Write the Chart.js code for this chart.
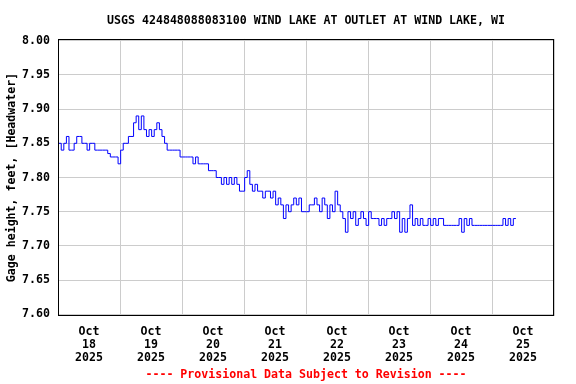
<!DOCTYPE html>
<html>
<head>
<meta charset="utf-8">
<script src="https://cdn.jsdelivr.net/npm/chart.js@4/dist/chart.umd.min.js"></script>
<style>
    html, body { margin: 0; padding: 0; background: #ffffff; }
    #wrap { width: 576px; height: 384px; }
</style>
</head>
<body>
<div id="wrap"><canvas id="myChart" width="576" height="384"></canvas></div>
<script>
    // hours counted from Oct 18 2025 00:00, one reading per hour
    var startHour = 0.25
    var stepHours = 1
    var gageHeight = [
        7.85, 7.84, 7.85, 7.86, 7.84, 7.84, 7.85, 7.86, 7.86, 7.85, 7.85, 7.84,
        7.85, 7.85, 7.84, 7.84, 7.84, 7.84, 7.84, 7.835, 7.83, 7.83, 7.83, 7.82,
        7.84, 7.85, 7.85, 7.86, 7.86, 7.88, 7.89, 7.87, 7.89, 7.87, 7.86, 7.87,
        7.86, 7.87, 7.88, 7.87, 7.86, 7.85, 7.84, 7.84, 7.84, 7.84, 7.84, 7.83,
        7.83, 7.83, 7.83, 7.83, 7.82, 7.83, 7.82, 7.82, 7.82, 7.82, 7.81, 7.81,
        7.81, 7.80, 7.80, 7.79, 7.80, 7.79, 7.80, 7.79, 7.80, 7.79, 7.78, 7.78,
        7.80, 7.81, 7.79, 7.78, 7.79, 7.78, 7.78, 7.77, 7.78, 7.78, 7.77, 7.78,
        7.76, 7.77, 7.76, 7.74, 7.76, 7.75, 7.76, 7.77, 7.76, 7.77, 7.75, 7.75,
        7.75, 7.76, 7.76, 7.77, 7.76, 7.75, 7.77, 7.76, 7.74, 7.76, 7.75, 7.78,
        7.76, 7.75, 7.74, 7.72, 7.75, 7.74, 7.75, 7.73, 7.74, 7.75, 7.74, 7.73,
        7.75, 7.74, 7.74, 7.74, 7.73, 7.74, 7.73, 7.74, 7.74, 7.75, 7.74, 7.75,
        7.72, 7.74, 7.72, 7.74, 7.76, 7.73, 7.74, 7.73, 7.74, 7.73, 7.73, 7.74,
        7.73, 7.74, 7.73, 7.74, 7.74, 7.73, 7.73, 7.73, 7.73, 7.73, 7.73, 7.74,
        7.72, 7.74, 7.73, 7.74, 7.73, 7.73, 7.73, 7.73, 7.73, 7.73, 7.73, 7.73,
        7.73, 7.73, 7.73, 7.73, 7.74, 7.73, 7.74, 7.73, 7.74, 7.74
    ]

    var monthLabel = "Oct"
    var yearLabel = "2025"
    var dayLabels = ["18", "19", "20", "21", "22", "23", "24", "25"]
    var yTicks = [7.60, 7.65, 7.70, 7.75, 7.80, 7.85, 7.90, 7.95, 8.00]

    var titleText = "USGS 424848088083100 WIND LAKE AT OUTLET AT WIND LAKE, WI"
    var yTitleText = "Gage height, feet, [Headwater]"
    var footText = "---- Provisional Data Subject to Revision ----"

    var monoFont = { family: "'DejaVu Sans Mono', monospace", size: 11.6, weight: "bold", lineHeight: 1.2 }
    var gridGray = "#cccccc"

    var points = gageHeight.map(function (v, i) {
        return { x: startHour + i * stepHours, y: v }
    })

    // frame round the plot area
    var frame = {
        id: "frame",
        afterDraw: function (chart) {
            var a = chart.chartArea
            var ctx = chart.ctx
            ctx.save()
            ctx.strokeStyle = "#000000"
            ctx.lineWidth = 1
            ctx.strokeRect(Math.round(a.left) + 0.5, Math.round(a.top) + 0.5,
                Math.round(a.right - a.left) - 1, Math.round(a.bottom - a.top) - 1)
            ctx.restore()
        }
    }

    new Chart(document.getElementById("myChart").getContext("2d"), {
        type: "line",
        data: {
            datasets: [{
                label: "Gage height",
                data: points,
                borderColor: "#0000ff",
                borderWidth: 1,
                pointRadius: 0,
                fill: false,
                stepped: true,
            }]
        },
        options: {
            responsive: false,
            animation: false,
            devicePixelRatio: 1,
            layout: { padding: { left: 0, right: 22, top: 0, bottom: 0 } },
            plugins: {
                legend: { display: false },
                tooltip: { enabled: false },
                title: {
                    display: true,
                    text: titleText,
                    color: "#000000",
                    font: monoFont,
                    fullSize: false,
                    padding: { top: 14, bottom: 11 },
                },
                subtitle: {
                    display: true,
                    position: "bottom",
                    text: footText,
                    color: "#ff0000",
                    font: monoFont,
                    fullSize: false,
                    padding: { top: 4, bottom: 2 },
                },
            },
            scales: {
                x: {
                    type: "linear",
                    min: 0,
                    max: 192,
                    border: { display: false },
                    afterBuildTicks: function (scale) {
                        var t = []
                        for (var h = 0; h <= 192; h += 12) t.push({ value: h })
                        scale.ticks = t
                    },
                    afterFit: function (scale) { scale.height = 48 },
                    grid: {
                        drawTicks: false,
                        color: function (ctx) {
                            return ctx.tick && ctx.tick.value % 24 === 0 ? gridGray : "rgba(0,0,0,0)"
                        },
                    },
                    ticks: {
                        autoSkip: false,
                        maxRotation: 0,
                        minRotation: 0,
                        padding: 9,
                        color: "#000000",
                        font: { family: monoFont.family, size: 11.6, weight: "bold", lineHeight: 1.12 },
                        callback: function (value) {
                            if (value % 24 !== 12) return ""
                            return [monthLabel, dayLabels[(value - 12) / 24], yearLabel]
                        },
                    },
                },
                y: {
                    min: 7.5974,
                    max: 8.0026,
                    border: { display: false },
                    afterBuildTicks: function (scale) {
                        scale.ticks = yTicks.map(function (v) { return { value: v } })
                    },
                    afterFit: function (scale) { scale.width = 58 },
                    grid: { drawTicks: false, color: gridGray },
                    ticks: {
                        padding: 8,
                        color: "#000000",
                        font: monoFont,
                        callback: function (value) { return value.toFixed(2) },
                    },
                    title: {
                        display: true,
                        text: yTitleText,
                        color: "#000000",
                        font: monoFont,
                        padding: { top: 5.5, bottom: 3.7 },
                    },
                },
            },
        },
        plugins: [frame],
    })
</script>
</body>
</html>
